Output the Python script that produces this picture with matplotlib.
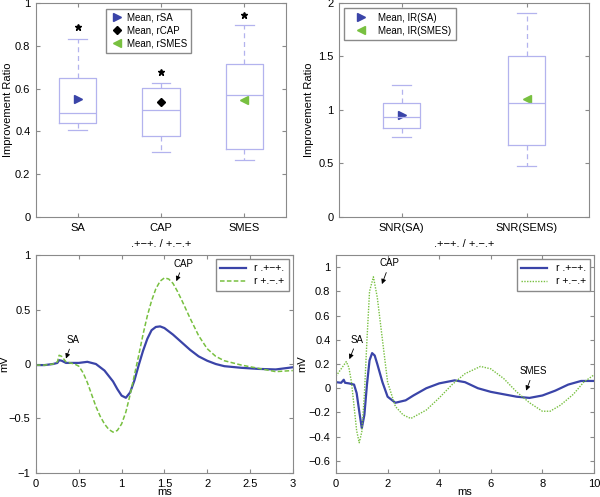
import numpy as np
import matplotlib
matplotlib.use("Agg")
import matplotlib.pyplot as plt

plt.rcParams['font.family'] = ['Liberation Sans', 'DejaVu Sans']
plt.rcParams['font.size'] = 8

# ---- box plot data (top left) ----
ratio_names = ["SA", "CAP", "SMES"]
ratio_whislo = [0.406, 0.302, 0.266]
ratio_q1 = [0.437, 0.379, 0.316]
ratio_med = [0.484, 0.499, 0.572]
ratio_q3 = [0.650, 0.603, 0.714]
ratio_whishi = [0.830, 0.628, 0.896]
ratio_out = [0.888, 0.678, 0.944]
ratio_mean = [0.549, 0.536, 0.546]

# ---- box plot data (top right) ----
snr_names = ["SNR(SA)", "SNR(SEMS)"]
snr_whislo = [0.746, 0.473]
snr_q1 = [0.830, 0.669]
snr_med = [0.930, 1.061]
snr_q3 = [1.067, 1.505]
snr_whishi = [1.229, 1.910]
snr_mean = [0.952, 1.107]

# ---- waveforms (bottom left) ----
t1 = [0, 0.1, 0.2, 0.25, 0.27, 0.3, 0.35, 0.4, 0.5, 0.6, 0.7, 0.8, 0.9, 0.95,
      1.0, 1.05, 1.1, 1.15, 1.2, 1.25, 1.3, 1.35, 1.4, 1.45, 1.5, 1.6, 1.7, 1.8,
      1.9, 2.0, 2.1, 2.2, 2.4, 2.6, 2.8, 3.0]
v1_pmp = [-0.01, -0.01, 0.0, 0.01, 0.035, 0.03, 0.01, 0.01, 0.01, 0.02, 0.0,
          -0.06, -0.16, -0.23, -0.29, -0.31, -0.26, -0.15, -0.01, 0.12, 0.23,
          0.31, 0.34, 0.345, 0.33, 0.27, 0.2, 0.13, 0.07, 0.03, 0.0, -0.02,
          -0.035, -0.045, -0.05, -0.03]
t2 = [0, 0.1, 0.2, 0.25, 0.27, 0.3, 0.35, 0.4, 0.45, 0.5, 0.55, 0.6, 0.65,
      0.7, 0.75, 0.8, 0.85, 0.9, 0.95, 1.0, 1.05, 1.1, 1.15, 1.2, 1.25, 1.3,
      1.35, 1.4, 1.45, 1.5, 1.55, 1.6, 1.65, 1.7, 1.8, 1.9, 2.0, 2.1, 2.2, 2.4,
      2.6, 2.8, 3.0]
v2_pmp = [-0.01, -0.01, 0.0, 0.02, 0.08, 0.07, 0.02, 0.01, 0.0, -0.02, -0.08,
          -0.17, -0.28, -0.39, -0.48, -0.55, -0.6, -0.625, -0.61, -0.55, -0.44,
          -0.28, -0.1, 0.08, 0.27, 0.44, 0.58, 0.69, 0.76, 0.79, 0.78, 0.74,
          0.67, 0.59, 0.42, 0.26, 0.14, 0.07, 0.03, -0.01, -0.04, -0.07, -0.06]

# ---- waveforms (bottom right) ----
t3 = [0, 0.2, 0.3, 0.35, 0.5, 0.7, 0.8, 0.9, 1.0, 1.1, 1.2, 1.3, 1.4, 1.5,
      1.6, 1.8, 2.0, 2.3, 2.7, 3.0, 3.5, 4.0, 4.6, 5.0, 5.5, 6.0, 6.5, 7.0, 7.5,
      8.0, 8.5, 9.0, 9.5, 10.0]
v3 = [0.05, 0.045, 0.07, 0.045, 0.04, 0.03, -0.04, -0.19, -0.33, -0.22, 0.03,
      0.23, 0.29, 0.27, 0.2, 0.05, -0.07, -0.12, -0.1, -0.06, 0.0, 0.04, 0.065,
      0.05, 0.0, -0.03, -0.05, -0.07, -0.08, -0.06, -0.02, 0.03, 0.06, 0.06]
t4 = [0, 0.2, 0.4, 0.5, 0.6, 0.7, 0.8, 0.9, 1.0, 1.1, 1.2, 1.3, 1.45, 1.6,
      1.8, 2.0, 2.3, 2.6, 2.9, 3.5, 4.0, 4.5, 5.0, 5.6, 6.0, 6.5, 7.0, 7.5, 8.0,
      8.3, 8.7, 9.2, 9.6, 10.0]
v4 = [0.1, 0.16, 0.22, 0.17, 0.05, -0.15, -0.35, -0.45, -0.36, -0.05, 0.4,
      0.8, 0.92, 0.75, 0.4, 0.05, -0.15, -0.22, -0.25, -0.18, -0.08, 0.03,
      0.12, 0.18, 0.16, 0.08, -0.03, -0.12, -0.19, -0.19, -0.14, -0.05, 0.05,
      0.11]

box_col = '#b3b3ee'
blue = '#3a44a8'
green = '#78c040'
spine_col = '#8a8a8a'


def style(ax):
    for s in ax.spines.values():
        s.set_color(spine_col)
        s.set_linewidth(0.8)
    ax.tick_params(direction='in', top=True, right=True, length=3,
                   color=spine_col, labelsize=8, pad=4)


def boxes(ax, q1, med, q3, lo, hi, width, out=None):
    stats = []
    for i in range(len(q1)):
        stats.append(dict(q1=q1[i], med=med[i], q3=q3[i], whislo=lo[i],
                          whishi=hi[i], fliers=[]))
    pos = np.arange(1, len(q1) + 1)
    ax.bxp(stats, positions=pos, widths=width, showfliers=False,
           boxprops=dict(color=box_col, lw=0.9),
           medianprops=dict(color=box_col, lw=0.9),
           whiskerprops=dict(color=box_col, lw=0.9, ls=(0, (4, 3))),
           capprops=dict(color=box_col, lw=0.9), capwidths=width * 0.5)
    if out is not None:
        ax.plot(pos, out, ls='none', marker='*', color='k', ms=5)
    return pos


fig = plt.figure(figsize=(6, 4.97), dpi=100)

# top left
ax1 = fig.add_axes([0.06, 0.5634, 0.4167, 0.4306])
pos = boxes(ax1, ratio_q1, ratio_med, ratio_q3, ratio_whislo, ratio_whishi,
            0.45, ratio_out)
h1, = ax1.plot(pos[0], ratio_mean[0], ls='none', marker='>', color=blue, ms=6)
h2, = ax1.plot(pos[1], ratio_mean[1], ls='none', marker='D', color='k', ms=4.5)
h3, = ax1.plot(pos[2], ratio_mean[2], ls='none', marker='<', color=green, ms=6)
ax1.set_xlim(0.5, 3.5)
ax1.set_ylim(0, 1)
ax1.set_xticks(pos)
ax1.set_xticklabels(ratio_names)
ax1.set_yticks([0, 0.2, 0.4, 0.6, 0.8, 1])
ax1.set_yticklabels(['0', '0.2', '0.4', '0.6', '0.8', '1'])
ax1.set_ylabel('Improvement Ratio')
ax1.yaxis.set_label_coords(-0.09, 0.5)
ax1.set_xlabel('.+\u2212+. / +.\u2212.+', labelpad=5)
ax1.legend([h1, h2, h3], ['Mean, rSA', 'Mean, rCAP', 'Mean, rSMES'],
           loc='upper center', bbox_to_anchor=(0.45, 0.995), fontsize=7,
           fancybox=False, edgecolor=spine_col, handletextpad=0.3,
           borderpad=0.4, labelspacing=0.3, handlelength=1.5,
           framealpha=1)
style(ax1)

# top right
ax2 = fig.add_axes([0.565, 0.5634, 0.4167, 0.4306])
pos = boxes(ax2, snr_q1, snr_med, snr_q3, snr_whislo, snr_whishi, 0.3)
g1, = ax2.plot(pos[0], snr_mean[0], ls='none', marker='>', color=blue, ms=6)
g2, = ax2.plot(pos[1], snr_mean[1], ls='none', marker='<', color=green, ms=6)
ax2.set_xlim(0.5, 2.5)
ax2.set_ylim(0, 2)
ax2.set_xticks(pos)
ax2.set_xticklabels(snr_names)
ax2.set_yticks([0, 0.5, 1, 1.5, 2])
ax2.set_yticklabels(['0', '0.5', '1', '1.5', '2'])
ax2.set_ylabel('Improvement Ratio')
ax2.yaxis.set_label_coords(-0.1, 0.5)
ax2.set_xlabel('.+\u2212+. / +.\u2212.+', labelpad=5)
ax2.legend([g1, g2], ['Mean, IR(SA)', 'Mean, IR(SMES)'], loc='upper left',
           bbox_to_anchor=(0.0, 1.0), fontsize=7, fancybox=False,
           edgecolor=spine_col, handletextpad=0.5, borderpad=0.5,
           labelspacing=0.3, handlelength=2.5, framealpha=1)
style(ax2)

# bottom left
ax3 = fig.add_axes([0.06, 0.0483, 0.428, 0.4386])
ax3.plot(t1, v1_pmp, color=blue, lw=1.6, label='r .+\u2212+.')
ax3.plot(t2, v2_pmp, color=green, lw=1.1, ls=(0, (3, 1.5)),
         label='r +.\u2212.+')
ax3.set_xlim(0, 3)
ax3.set_ylim(-1, 1)
ax3.set_xticks([0, 0.5, 1, 1.5, 2, 2.5, 3])
ax3.set_xticklabels(['0', '0.5', '1', '1.5', '2', '2.5', '3'])
ax3.set_yticks([-1, -0.5, 0, 0.5, 1])
ax3.set_yticklabels(['\u22121', '\u22120.5', '0', '0.5', '1'])
ax3.set_xlabel('ms')
ax3.xaxis.set_label_coords(0.5, -0.065)
ax3.set_ylabel('mV')
ax3.yaxis.set_label_coords(-0.105, 0.5)
ax3.legend(loc='upper right', fontsize=7.5, fancybox=False,
           edgecolor=spine_col, handlelength=2.5, borderpad=0.4,
           labelspacing=0.3, framealpha=1, borderaxespad=0.4)
arr = dict(arrowstyle='-|>', color='k', lw=0.6, mutation_scale=7,
           shrinkA=1, shrinkB=0)
ax3.annotate('SA', xy=(0.35, 0.05), xytext=(0.43, 0.22), ha='center',
             va='center', fontsize=7, arrowprops=arr)
ax3.annotate('CAP', xy=(1.64, 0.76), xytext=(1.72, 0.92), ha='center',
             va='center', fontsize=7, arrowprops=arr)
style(ax3)

# bottom right
ax4 = fig.add_axes([0.56, 0.0483, 0.43, 0.4386])
ax4.plot(t3, v3, color=blue, lw=1.6, label='r .+\u2212+.')
ax4.plot(t4, v4, color=green, lw=1.0, ls=(0, (1, 1)), label='r +.\u2212.+')
ax4.set_xlim(0, 10)
ax4.set_ylim(-0.7, 1.1)
ax4.set_xticks([0, 2, 4, 6, 8, 10])
ax4.set_yticks([-0.6, -0.4, -0.2, 0, 0.2, 0.4, 0.6, 0.8, 1])
ax4.set_yticklabels(['\u22120.6', '\u22120.4', '\u22120.2', '0', '0.2', '0.4',
                     '0.6', '0.8', '1'])
ax4.set_xlabel('ms')
ax4.xaxis.set_label_coords(0.5, -0.065)
ax4.set_ylabel('mV')
ax4.yaxis.set_label_coords(-0.11, 0.5)
ax4.legend(loc='upper right', fontsize=7.5, fancybox=False,
           edgecolor=spine_col, handlelength=2.5, borderpad=0.4,
           labelspacing=0.3, framealpha=1, borderaxespad=0.4)
ax4.annotate('SA', xy=(0.52, 0.24), xytext=(0.82, 0.40), ha='center',
             va='center', fontsize=7, arrowprops=arr)
ax4.annotate('CAP', xy=(1.78, 0.86), xytext=(2.08, 1.03), ha='center',
             va='center', fontsize=7, arrowprops=arr)
ax4.annotate('SMES', xy=(7.37, -0.02), xytext=(7.65, 0.14), ha='center',
             va='center', fontsize=7, arrowprops=arr)
style(ax4)

fig.savefig('out.png', dpi=100)
